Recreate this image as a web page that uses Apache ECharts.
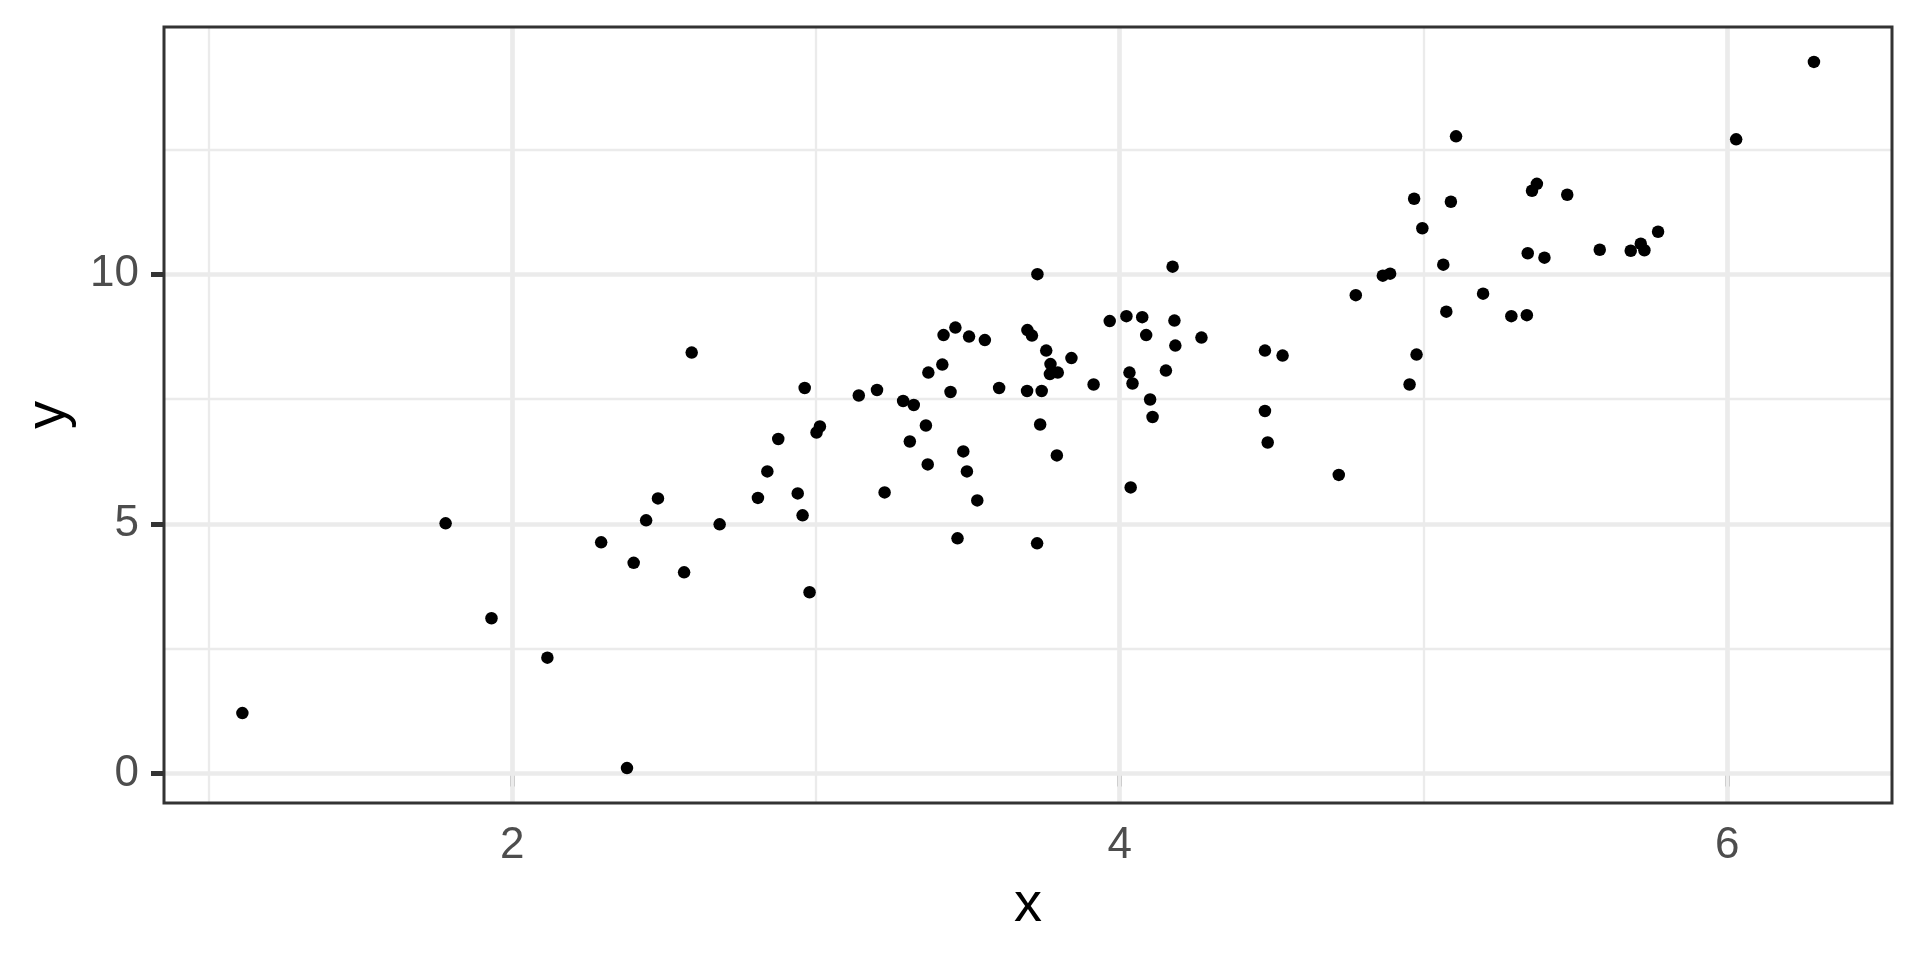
<!DOCTYPE html>
<html>
<head>
<meta charset="utf-8">
<script src="https://cdn.jsdelivr.net/npm/echarts@6/dist/echarts.min.js"></script>
<style>
html,body{margin:0;padding:0;background:#fff;}
#chart{width:1920px;height:960px;}
</style>
</head>
<body>
<div id="chart"></div>
<script>
const xValues = [1.112,1.781,1.932,2.116,2.293,2.378,2.400,2.441,2.480,2.566,2.591,2.683,2.809,2.840,2.876,2.940,2.956,2.963,2.979,3.002,
3.013,3.141,3.201,3.226,3.287,3.309,3.322,3.362,3.368,3.370,3.416,3.420,3.443,3.459,3.466,3.485,3.497,3.504,3.531,3.556,
3.603,3.695,3.696,3.711,3.728,3.729,3.738,3.743,3.758,3.772,3.770,3.796,3.793,3.841,3.914,3.967,4.022,4.032,4.036,4.042,
4.074,4.087,4.100,4.108,4.152,4.174,4.180,4.183,4.269,4.478,4.478,4.487,4.536,4.721,4.777,4.866,4.890,4.954,4.969,4.977,
4.996,5.065,5.075,5.090,5.107,5.196,5.289,5.340,5.343,5.357,5.373,5.398,5.473,5.580,5.682,5.715,5.727,5.772,6.029,6.285];
const yValues = [1.21,5.01,3.11,2.32,4.63,0.11,4.22,5.07,5.51,4.03,8.43,4.99,5.52,6.05,6.70,5.61,5.17,7.72,3.63,6.83,
6.95,7.57,7.68,5.63,7.46,6.65,7.38,6.97,6.19,8.03,8.19,8.78,7.64,8.93,4.71,6.45,6.05,8.75,5.47,8.68,
7.72,7.66,8.88,8.77,4.61,10.00,6.99,7.66,8.47,8.20,8.00,8.03,6.37,8.32,7.79,9.06,9.16,8.03,5.73,7.81,
9.14,8.78,7.49,7.14,8.07,10.15,9.07,8.57,8.73,8.47,7.26,6.63,8.37,5.98,9.58,9.97,10.01,7.79,11.51,8.39,
10.92,10.19,9.25,11.45,12.76,9.61,9.16,9.18,10.42,11.67,11.81,10.33,11.59,10.49,10.47,10.61,10.48,10.85,12.70,14.25];
const xTickValues = [2, 4, 6];
const yTickValues = [0, 5, 10];
const xMinorValues = [1, 3, 5];
const yMinorValues = [2.5, 7.5, 12.5];
const xTitle = 'x';
const yTitle = 'y';

const FONT = '"Liberation Sans", Arial, Helvetica, sans-serif';
const points = xValues.map((x, i) => [x, yValues[i]]);

const gridLines = [
  ...xMinorValues.map(v => ({xAxis: v, lineStyle: {width: 2.3}})),
  ...yMinorValues.map(v => ({yAxis: v, lineStyle: {width: 2.3}})),
  ...xTickValues.map(v => ({xAxis: v, lineStyle: {width: 4.7}})),
  ...yTickValues.map(v => ({yAxis: v, lineStyle: {width: 4.7}}))
];

const chart = echarts.init(document.getElementById('chart'), null, {renderer: 'canvas'});
chart.setOption({
  animation: false,
  backgroundColor: '#ffffff',
  textStyle: {fontFamily: FONT},
  grid: {left: 164, right: 28, top: 27, bottom: 157, show: true, borderColor: '#333333', borderWidth: 3, backgroundColor: 'transparent', z: 2},
  xAxis: {
    type: 'value', min: 0.854, max: 6.542,
    name: xTitle, nameLocation: 'middle', nameGap: 75,
    nameTextStyle: {fontSize: 56, color: '#000000', fontFamily: FONT},
    axisLine: {show: false},
    axisTick: {show: true, length: 13, lineStyle: {color: '#333333', width: 5}, customValues: xTickValues},
    axisLabel: {customValues: xTickValues, fontSize: 44, color: '#4D4D4D', margin: 21, fontFamily: FONT},
    splitLine: {show: false}
  },
  yAxis: {
    type: 'value', min: -0.59, max: 14.95,
    name: yTitle, nameLocation: 'middle', nameGap: 87, nameRotate: 90,
    nameTextStyle: {fontSize: 56, color: '#000000', fontFamily: FONT},
    axisLine: {show: false},
    axisTick: {show: true, length: 13, lineStyle: {color: '#333333', width: 5}, customValues: yTickValues},
    axisLabel: {customValues: yTickValues, fontSize: 44, color: '#4D4D4D', margin: 25, fontFamily: FONT},
    splitLine: {show: false}
  },
  series: [
    {
      type: 'scatter', data: [], z: 1, silent: true,
      markLine: {
        silent: true, symbol: ['none', 'none'], animation: false, z: 1,
        label: {show: false},
        lineStyle: {color: '#EBEBEB', type: 'solid'},
        emphasis: {disabled: true},
        data: gridLines
      }
    },
    {
      type: 'scatter', data: points, z: 3,
      symbol: 'circle', symbolSize: 12.5,
      itemStyle: {color: '#000000', opacity: 1}
    }
  ]
});
</script>
</body>
</html>
